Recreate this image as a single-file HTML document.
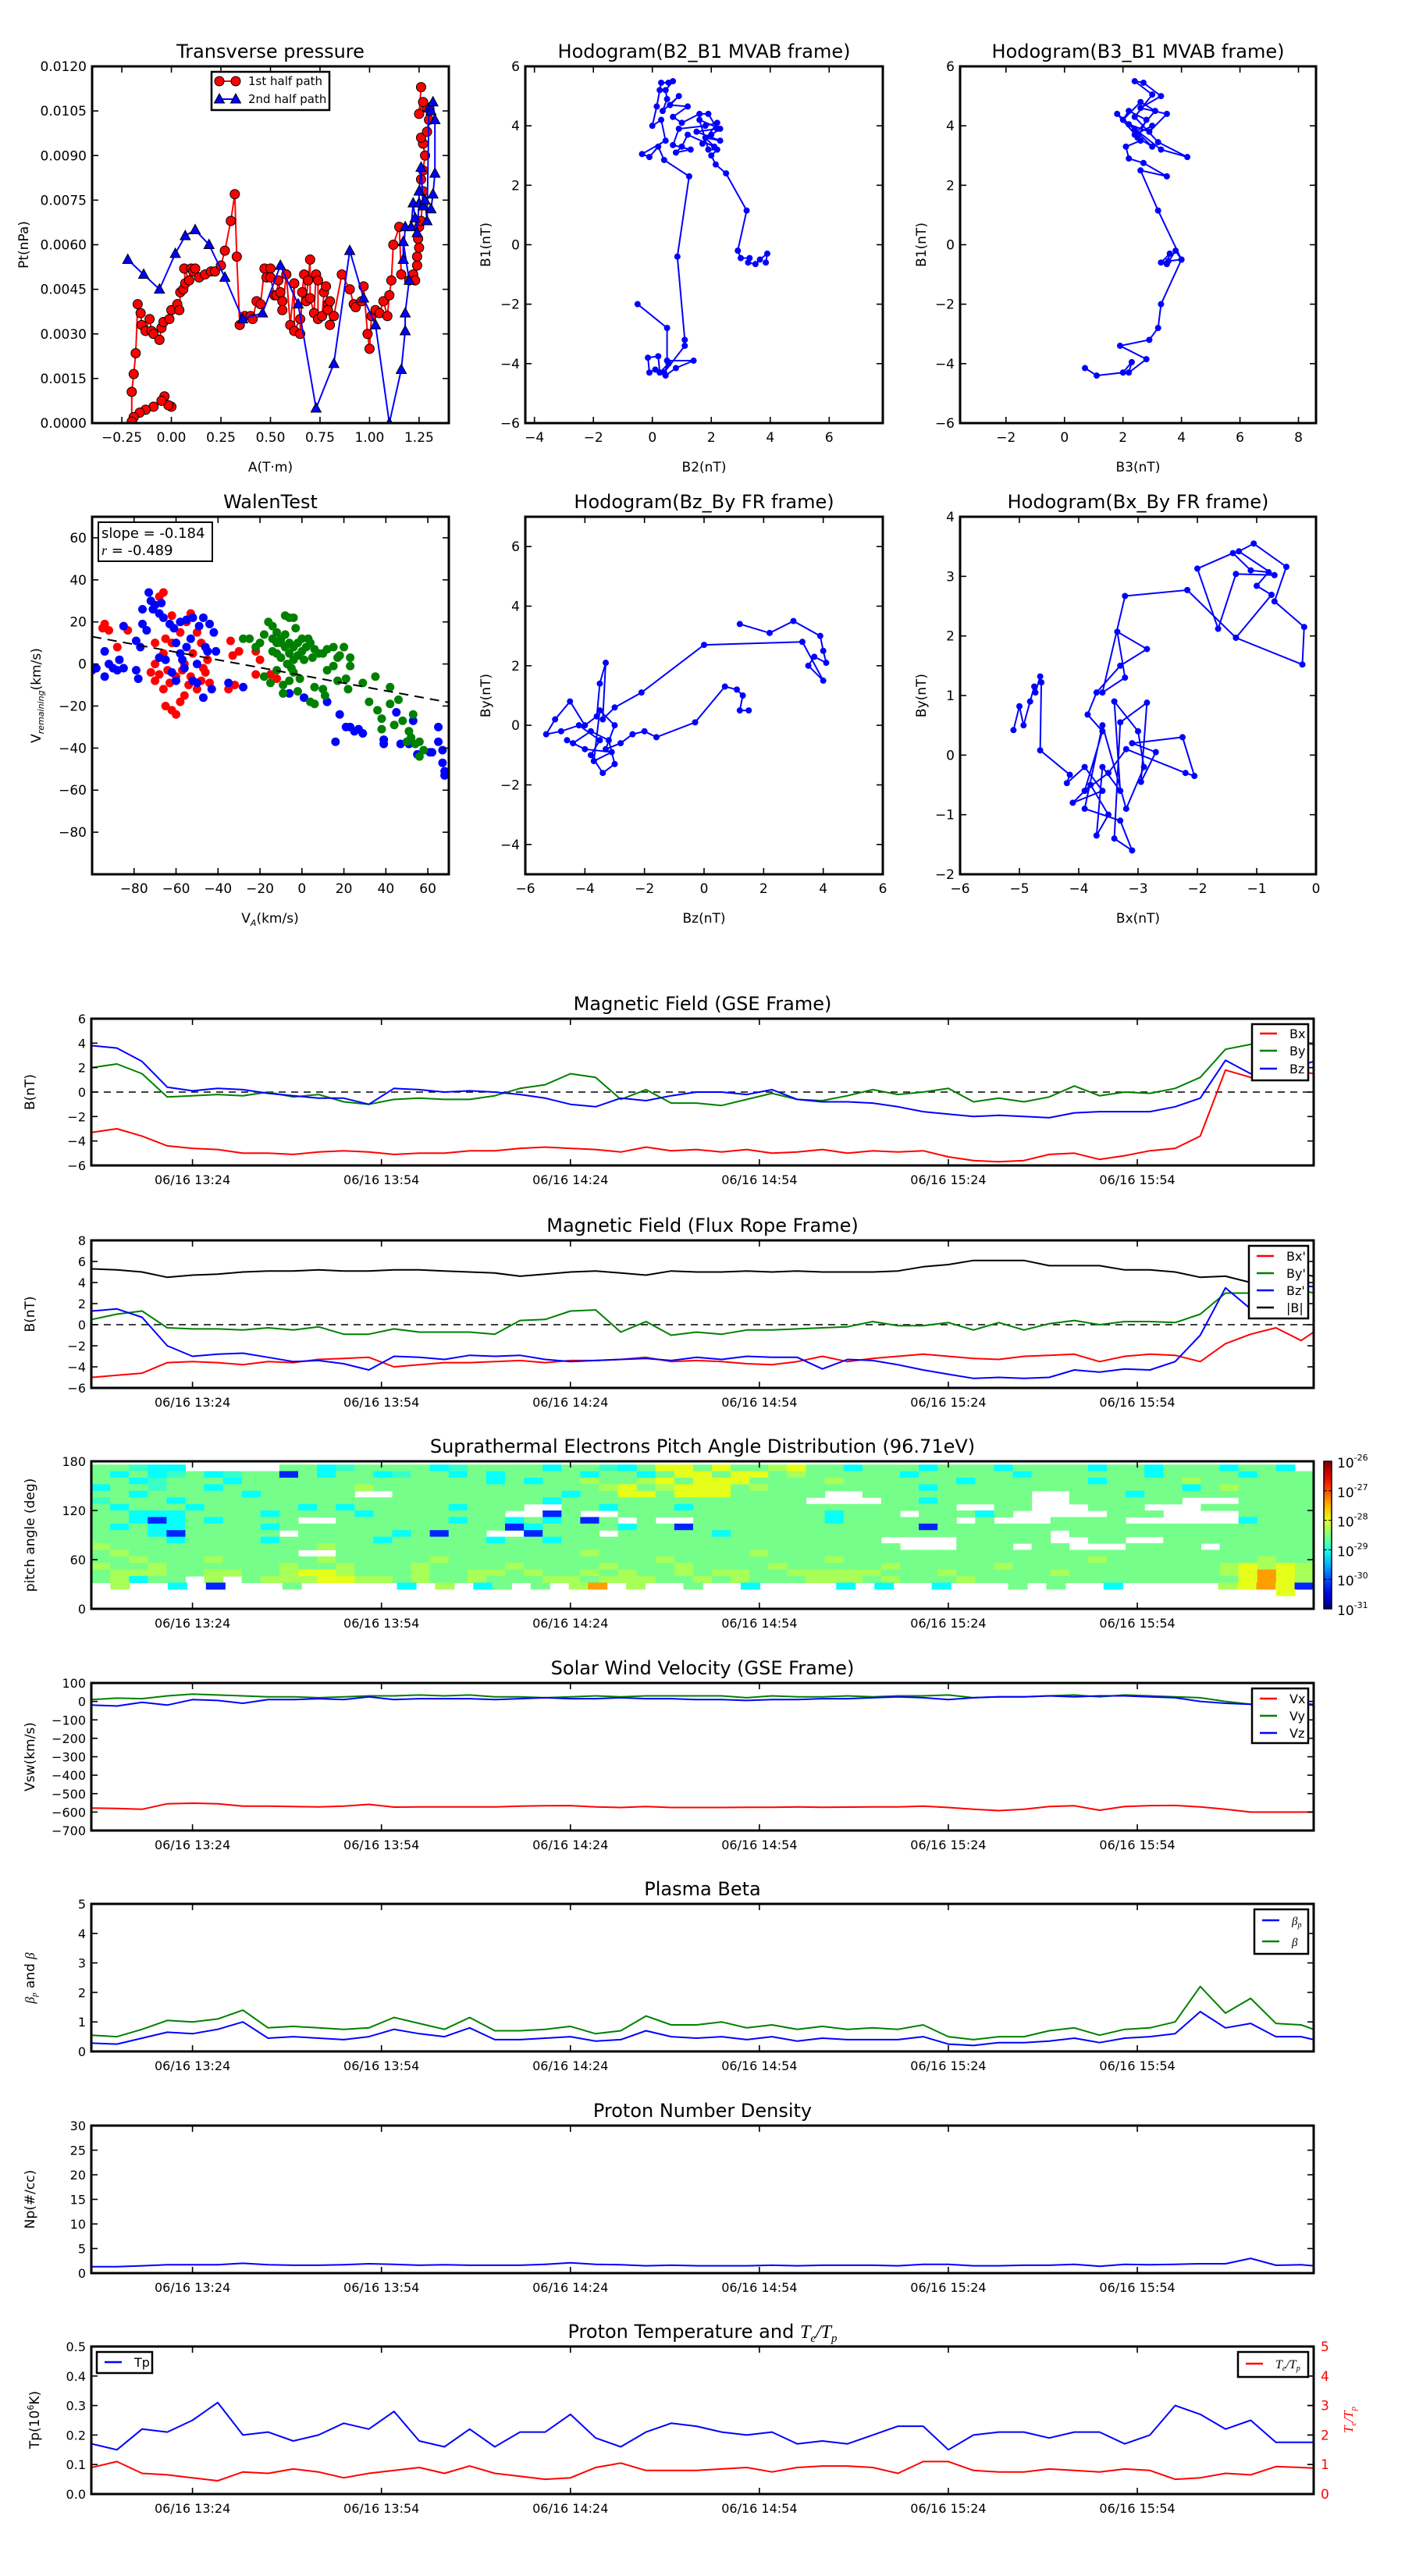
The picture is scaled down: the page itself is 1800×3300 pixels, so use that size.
<!DOCTYPE html>
<html><head><meta charset="utf-8"><title>Flux rope analysis</title>
<style>
html,body{margin:0;padding:0;background:#fff;}
svg{display:block;font-family:"DejaVu Sans","Liberation Sans",sans-serif;}
</style></head>
<body>
<svg id="fig" xmlns="http://www.w3.org/2000/svg" width="1800" height="3300" viewBox="0 0 1800 3300"><defs id="defs"></defs><rect width="1800" height="3300" fill="#fff"/></svg>
<script>
// ---------- DATA ----------
const tGrid=[8,12,16,20,24,28,32,36,40,44,48,52,56,60,64,68,72,76,80,84,88,92,96,100,104,108,112,116,120,124,128,132,136,140,144,148,152,156,160,164,168,172,176,180,184,188,192,196,200,202];
const timeTicks=[24,54,84,114,144,174];
const timeTickLabels=['06/16 13:24','06/16 13:54','06/16 14:24','06/16 14:54','06/16 15:24','06/16 15:54'];
const gseBx=[-3.3,-3.0,-3.6,-4.4,-4.6,-4.7,-5.0,-5.0,-5.1,-4.9,-4.8,-4.9,-5.1,-5.0,-5.0,-4.8,-4.8,-4.6,-4.5,-4.6,-4.7,-4.9,-4.5,-4.8,-4.7,-4.9,-4.7,-5.0,-4.9,-4.7,-5.0,-4.8,-4.9,-4.8,-5.3,-5.6,-5.7,-5.6,-5.1,-5.0,-5.5,-5.2,-4.8,-4.6,-3.6,1.8,1.2,1.6,1.7,1.5];
const gseBy=[2.0,2.3,1.5,-0.4,-0.3,-0.2,-0.3,0.0,-0.4,-0.2,-0.8,-1.0,-0.6,-0.5,-0.6,-0.6,-0.3,0.3,0.6,1.5,1.2,-0.6,0.2,-0.9,-0.9,-1.1,-0.6,-0.1,-0.6,-0.7,-0.3,0.2,-0.2,0.0,0.3,-0.8,-0.5,-0.8,-0.4,0.5,-0.3,0.0,-0.1,0.3,1.2,3.5,3.9,4.0,4.0,3.9];
const gseBz=[3.8,3.6,2.5,0.4,0.1,0.3,0.2,-0.1,-0.3,-0.5,-0.5,-1.0,0.3,0.2,0.0,0.1,0.0,-0.2,-0.5,-1.0,-1.2,-0.5,-0.7,-0.3,0.0,0.0,-0.2,0.2,-0.6,-0.8,-0.8,-0.9,-1.2,-1.6,-1.8,-2.0,-1.9,-2.0,-2.1,-1.7,-1.6,-1.6,-1.6,-1.2,-0.5,2.6,1.5,2.4,2.2,2.5];
const frBx=[-5.0,-4.8,-4.6,-3.6,-3.5,-3.6,-3.8,-3.5,-3.6,-3.3,-3.2,-3.1,-4.0,-3.8,-3.6,-3.6,-3.5,-3.4,-3.6,-3.4,-3.4,-3.3,-3.1,-3.5,-3.4,-3.5,-3.7,-3.8,-3.5,-3.0,-3.5,-3.2,-3.0,-2.8,-3.0,-3.2,-3.3,-3.0,-2.9,-2.8,-3.5,-3.0,-2.8,-2.9,-3.5,-1.8,-0.9,-0.3,-1.5,-0.7];
const frBy=[0.5,1.0,1.3,-0.3,-0.4,-0.4,-0.5,-0.3,-0.5,-0.2,-0.9,-0.9,-0.4,-0.7,-0.7,-0.7,-0.9,0.4,0.5,1.3,1.4,-0.7,0.3,-1.0,-0.7,-0.9,-0.5,-0.5,-0.4,-0.3,-0.2,0.3,-0.1,-0.1,0.2,-0.5,0.2,-0.5,0.1,0.4,0.0,0.3,0.3,0.2,1.0,3.0,3.0,3.2,3.3,3.0];
const frBz=[1.3,1.5,0.7,-2.0,-3.0,-2.8,-2.7,-3.1,-3.5,-3.4,-3.7,-4.3,-3.0,-3.1,-3.3,-2.9,-3.0,-2.9,-3.3,-3.5,-3.4,-3.3,-3.2,-3.4,-3.1,-3.3,-3.0,-3.1,-3.1,-4.2,-3.3,-3.4,-3.8,-4.3,-4.7,-5.1,-5.0,-5.1,-5.0,-4.3,-4.5,-4.2,-4.3,-3.5,-1.0,3.5,1.5,3.6,3.7,3.6];
const frBt=[5.3,5.2,5.0,4.5,4.7,4.8,5.0,5.1,5.1,5.2,5.1,5.1,5.2,5.2,5.1,5.0,4.9,4.6,4.8,5.0,5.1,4.9,4.7,5.1,5.0,5.0,5.1,5.0,5.1,5.0,5.0,5.0,5.1,5.5,5.7,6.1,6.1,6.1,5.6,5.6,5.6,5.2,5.2,5.0,4.5,4.6,4.0,4.2,4.8,4.6];
const vx=[-578,-580,-585,-555,-552,-555,-568,-568,-570,-572,-568,-558,-573,-572,-572,-572,-572,-568,-566,-565,-572,-575,-570,-575,-575,-575,-574,-574,-572,-574,-573,-572,-572,-568,-575,-585,-592,-585,-570,-566,-590,-570,-565,-564,-572,-585,-600,-600,-600,-600];
const vy=[10,18,15,30,40,35,30,25,25,20,25,30,30,35,30,35,25,25,20,25,30,25,30,30,30,30,20,30,25,25,30,25,30,30,35,20,25,25,30,35,25,35,30,25,20,0,-15,-10,-10,-15];
const vz=[-20,-25,-5,-20,10,5,-10,10,10,15,10,25,10,15,15,15,10,15,20,15,15,20,15,15,10,10,5,10,10,15,15,20,25,20,10,20,25,25,30,25,30,30,25,20,0,-10,-15,-20,-15,-20];
const betaP=[0.28,0.25,0.45,0.65,0.6,0.75,1.0,0.45,0.5,0.45,0.4,0.5,0.75,0.6,0.5,0.8,0.4,0.4,0.45,0.5,0.35,0.4,0.7,0.5,0.45,0.5,0.4,0.5,0.35,0.45,0.4,0.4,0.4,0.5,0.25,0.2,0.3,0.3,0.35,0.45,0.3,0.45,0.5,0.6,1.35,0.8,0.95,0.5,0.5,0.4];
const betaT=[0.55,0.5,0.75,1.05,1.0,1.1,1.4,0.8,0.85,0.8,0.75,0.8,1.15,0.95,0.75,1.15,0.7,0.7,0.75,0.85,0.6,0.7,1.2,0.9,0.9,1.0,0.8,0.9,0.75,0.85,0.75,0.8,0.75,0.9,0.5,0.4,0.5,0.5,0.7,0.8,0.55,0.75,0.8,1.0,2.2,1.3,1.8,0.95,0.9,0.75];
const np=[1.3,1.3,1.5,1.7,1.7,1.7,2.0,1.7,1.6,1.6,1.7,1.9,1.8,1.6,1.7,1.6,1.6,1.6,1.8,2.1,1.8,1.7,1.5,1.6,1.5,1.5,1.5,1.6,1.5,1.6,1.6,1.6,1.5,1.8,1.8,1.5,1.5,1.6,1.6,1.8,1.4,1.8,1.7,1.8,1.9,1.9,3.0,1.6,1.7,1.5];
const tp=[0.17,0.15,0.22,0.21,0.25,0.31,0.20,0.21,0.18,0.20,0.24,0.22,0.28,0.18,0.16,0.22,0.16,0.21,0.21,0.27,0.19,0.16,0.21,0.24,0.23,0.21,0.20,0.21,0.17,0.18,0.17,0.20,0.23,0.23,0.15,0.20,0.21,0.21,0.19,0.21,0.21,0.17,0.20,0.30,0.27,0.22,0.25,0.175,0.175,0.175];
const teTp=[0.9,1.1,0.7,0.65,0.55,0.45,0.75,0.7,0.85,0.75,0.55,0.7,0.8,0.9,0.7,0.95,0.7,0.6,0.5,0.55,0.9,1.05,0.8,0.8,0.8,0.85,0.9,0.75,0.9,0.95,0.95,0.9,0.7,1.1,1.1,0.8,0.75,0.75,0.85,0.8,0.75,0.85,0.8,0.5,0.55,0.7,0.65,0.93,0.9,0.88];
// PAD: rows top (176 deg) to bottom (16 deg), 8 deg each; columns span the time domain
const padRows=[
"GGgcc.....GGcgGGGGcgGGGGcGGgcGyyGyGGlyGGcGGGcGGGcGGGGcGGcGGGcGGc.",
"GcGcgGcgGGbGcGGcgGGcGcGGGGcGGcGyyGyyGlGGGGGcGGGGGcGGGGGGcGGGGcGGG",
"GGcgGGGcGGGGGGGGGGGGGcGcGGlGGlyGyyyGGGGlGGGGGGcGGGGGGcGGGGlGGGGGG",
"cGGgGGcGGGGGGGlGGGGGGGGGGGGlyGlyyyGlGGGGGGGGcGGGGGGGGGGGGGcGlGGGG",
"GGcGGGGGcGGGGG..GGGGGGGGGcGGyyGyyyGGGGG..GGGGGGGGG..GGGcGGGGGGGGG",
"gGGGcGGGGGGGGGGGGGGGGGGGcGGGGGGGGGGGGG....GGcGGGGG..GGGGGG...GGGG",
"GcGGGcGGGGGcGcGGGGGcGGG..GGcGGGcGGGGGGGGGGGGGG..GG...GGG...GGGGGG",
"GGcccGGGGcGGGGcGGGGGGG..bG..GGGGGGGGGGGcGGG.GGGcG.....GGG....GGGG",
"GGcbcGcGGGG..GGGGGGcGGcGcGbG.G..GGGGGGGcGGGGGG.G...GGGG......cGGG",
"GcGccGGGGcGGGGGGGGGGGGbcGGGGcGGbGGGGGGGGGGGGbGGGGGGGGGGGGGGGGGGGG",
"GGGcbGGGGG.GGGGGcGbGG..bGGG.GGGGGcGGGGGGGGGGGGGGGGG.GGGGGGGGGGGGG",
"GGGGcGGGGcGGGGGcGGGGGcGGcGGGGGGGGGGGGGGGGG....GGGGG..GG..GGGGGGGG",
"lGGGGGGGGGGGlGGGGGGGGGGGGGGGGGGGGGGGGGGGGGG...GGG.GG...GGGG.GGGGG",
"GlGGGGGGGGG..GGGGGGGGGGGGGlGGGGGGGGlGGGGGGGGGGGGGGGGGGGGGGGGGGGGG",
"GGlGGGlGGGGGlGGGGGlGGGGGGGGGGGlGGGGGGGGlGGGGGGGGGGGGGlGGGGGGGGlGG",
"lGGlGGGGGGlGGlGGGlGGGGlGGGGlGGGlGGGGlGGGGGlGGGGGlGGGGGGGGGGGlylyl",
"GlllGGllGGlyylGGGlGGllGlGGlGlGGlGllGGlllllGGGlGGGGGlGGGGGGGGlyoyl",
"GlcGG.l.GlllyyllGlGGlGGGllGlllGGlGlGGGlllGlGGGlGGGGGGGGGGGGGGyoyl",
".l..c.b...G.....c.l.cG.G.lo.l..G..c....c.c..c...G.G..c.....lyoyb",
"...............................................................y."];
const padLevels={b:-30.2,c:-29.1,g:-28.85,G:-28.55,l:-28.3,y:-28.0,o:-27.4};
const tpRed=[[0.0,0.00055],[-0.015,0.0006],[-0.035,0.0009],[-0.05,0.00075],[-0.09,0.00055],[-0.13,0.00045],[-0.16,0.00035],[-0.19,0.0002],[-0.2,0.00005],[-0.2,0.00105],[-0.19,0.00165],[-0.18,0.00235],[-0.17,0.004],[-0.155,0.0037],[-0.15,0.0033],[-0.13,0.0031],[-0.11,0.0035],[-0.1,0.0031],[-0.09,0.003],[-0.06,0.0028],[-0.05,0.0032],[-0.04,0.0034],[-0.01,0.0035],[0.0,0.0038],[0.03,0.004],[0.04,0.0038],[0.045,0.0044],[0.06,0.0045],[0.07,0.0047],[0.065,0.0052],[0.09,0.0048],[0.1,0.0052],[0.11,0.0051],[0.12,0.0052],[0.14,0.0049],[0.17,0.005],[0.2,0.0051],[0.22,0.0051],[0.25,0.0053],[0.27,0.0058],[0.3,0.0068],[0.32,0.0077],[0.33,0.0056],[0.345,0.0033],[0.37,0.0036],[0.4,0.0036],[0.41,0.0035],[0.43,0.0041],[0.45,0.004],[0.47,0.0052],[0.48,0.0049],[0.5,0.0052],[0.5,0.0049],[0.52,0.0043],[0.53,0.0043],[0.54,0.0048],[0.55,0.0044],[0.56,0.0041],[0.56,0.0038],[0.58,0.005],[0.6,0.0033],[0.62,0.0047],[0.62,0.0031],[0.65,0.0035],[0.65,0.003],[0.66,0.0044],[0.67,0.005],[0.68,0.0041],[0.69,0.0048],[0.7,0.0055],[0.7,0.0042],[0.72,0.0037],[0.73,0.005],[0.74,0.0048],[0.74,0.0035],[0.76,0.0036],[0.77,0.0044],[0.78,0.0046],[0.79,0.004],[0.79,0.0038],[0.8,0.0041],[0.8,0.0033],[0.82,0.0036],[0.86,0.005],[0.9,0.0045],[0.92,0.004],[0.93,0.0039],[0.96,0.0041],[0.97,0.0046],[0.99,0.003],[1.0,0.0025],[1.01,0.0036],[1.03,0.0038],[1.05,0.0037],[1.07,0.0041],[1.09,0.0036],[1.1,0.0043],[1.11,0.0048],[1.12,0.006],[1.15,0.0066],[1.16,0.005],[1.2,0.0048],[1.22,0.005],[1.23,0.0048],[1.24,0.0053],[1.24,0.0056],[1.25,0.0059],[1.245,0.0062],[1.25,0.0066],[1.26,0.0068],[1.27,0.0078],[1.26,0.0082],[1.27,0.0085],[1.28,0.009],[1.27,0.0094],[1.26,0.0096],[1.29,0.0098],[1.3,0.0102],[1.29,0.0106],[1.27,0.0108],[1.25,0.0104],[1.26,0.0113]];
const tpBlue=[[-0.22,0.0055],[-0.14,0.005],[-0.06,0.0045],[0.02,0.0057],[0.07,0.0063],[0.12,0.0065],[0.19,0.006],[0.27,0.0049],[0.36,0.0035],[0.46,0.0037],[0.55,0.0053],[0.64,0.004],[0.73,0.0005],[0.82,0.002],[0.9,0.0058],[0.97,0.0042],[1.03,0.0033],[1.1,0.0],[1.16,0.0018],[1.18,0.0031],[1.18,0.0037],[1.2,0.0048],[1.17,0.0061],[1.17,0.0055],[1.18,0.0066],[1.21,0.0066],[1.22,0.0074],[1.23,0.0069],[1.24,0.0064],[1.25,0.0074],[1.25,0.0078],[1.26,0.0086],[1.27,0.0073],[1.28,0.0075],[1.29,0.0068],[1.3,0.0106],[1.31,0.0105],[1.32,0.0108],[1.33,0.0102],[1.33,0.0084],[1.32,0.0077],[1.31,0.0072]];
const hodoB2B1=[[-0.5,-2.0],[0.5,-2.8],[0.5,-3.9],[1.4,-3.9],[0.8,-4.15],[0.45,-4.4],[0.1,-4.2],[-0.1,-4.3],[-0.15,-3.8],[0.2,-3.75],[0.25,-4.3],[0.55,-4.0],[0.4,-4.3],[1.1,-3.4],[1.1,-3.2],[0.85,-0.4],[1.25,2.3],[0.4,2.85],[0.2,3.3],[-0.1,2.95],[-0.35,3.05],[0.45,3.5],[0.3,4.2],[0.0,4.0],[0.15,4.65],[0.25,5.2],[0.3,5.45],[0.55,5.45],[0.7,5.5],[0.45,5.2],[0.5,4.9],[0.35,4.5],[0.9,5.0],[0.6,4.7],[1.2,4.65],[0.7,4.3],[1.0,4.1],[1.6,4.4],[1.9,4.4],[2.2,3.9],[1.5,3.8],[2.3,3.5],[1.8,3.6],[2.1,3.3],[1.2,3.7],[1.0,3.3],[0.8,3.1],[1.3,3.2],[0.7,3.35],[0.9,3.9],[1.8,4.0],[2.2,4.1],[1.7,3.4],[2.0,3.7],[2.3,3.9],[1.6,4.2],[1.9,3.2],[2.2,3.2],[2.0,3.0],[2.15,2.7],[2.5,2.4],[3.2,1.15],[2.9,-0.2],[3.0,-0.45],[3.3,-0.45],[3.25,-0.6],[3.5,-0.65],[3.65,-0.5],[3.9,-0.3],[3.85,-0.6]];
const hodoB3B1=[[0.7,-4.15],[1.1,-4.4],[2.0,-4.3],[2.3,-3.95],[2.2,-4.3],[2.8,-3.85],[1.9,-3.4],[2.9,-3.2],[3.2,-2.8],[3.3,-2.0],[4.0,-0.5],[3.8,-0.2],[3.5,-0.65],[3.6,-0.3],[3.3,-0.6],[3.55,-0.55],[4.0,-0.5],[3.2,1.15],[2.6,2.5],[3.5,2.3],[2.7,2.75],[2.2,2.9],[2.1,3.3],[2.6,3.5],[1.8,4.4],[2.4,3.9],[3.3,3.2],[4.2,2.95],[3.2,3.45],[2.4,4.3],[3.0,5.05],[2.4,5.5],[2.7,5.45],[3.3,5.0],[2.6,4.6],[3.5,4.4],[2.9,3.8],[2.2,4.05],[3.0,3.3],[2.5,3.6],[2.8,4.2],[2.2,4.5],[2.0,4.2],[2.6,4.8],[3.1,4.5],[2.4,3.7],[3.0,4.0]];
const hodoBzBy=[[1.2,3.4],[2.2,3.1],[3.0,3.5],[3.9,3.0],[4.0,2.5],[4.1,2.1],[3.7,2.3],[3.5,2.0],[4.0,1.5],[3.3,2.8],[0.0,2.7],[-2.1,1.1],[-3.0,0.6],[-3.4,0.2],[-3.3,2.1],[-3.5,1.4],[-3.6,0.3],[-4.0,0.0],[-4.5,0.8],[-5.0,0.2],[-5.3,-0.3],[-4.8,-0.2],[-4.2,0.0],[-3.5,-0.5],[-3.8,-1.0],[-3.4,-1.6],[-3.0,-1.3],[-3.2,-0.5],[-3.8,-0.2],[-4.4,-0.6],[-4.6,-0.5],[-4.0,-0.8],[-3.1,-0.9],[-3.7,-1.2],[-3.5,0.5],[-3.0,0.0],[-3.3,-0.8],[-2.8,-0.6],[-2.4,-0.3],[-2.0,-0.2],[-1.6,-0.4],[-0.3,0.1],[0.7,1.3],[1.1,1.2],[1.3,1.0],[1.2,0.5],[1.5,0.5]];
const hodoBxBy=[[-5.1,0.42],[-5.0,0.82],[-4.93,0.5],[-4.82,0.9],[-4.75,1.15],[-4.73,1.05],[-4.65,1.32],[-4.63,1.22],[-4.65,0.08],[-4.15,-0.33],[-4.2,-0.47],[-3.9,-0.2],[-3.6,-0.6],[-4.1,-0.8],[-3.8,-0.5],[-3.5,-1.0],[-3.7,-1.35],[-3.6,-0.2],[-3.3,-0.6],[-3.4,0.9],[-3.0,0.4],[-2.9,-0.2],[-3.2,-0.9],[-3.6,0.5],[-3.9,-0.9],[-3.3,-1.1],[-3.1,-1.6],[-3.4,-1.4],[-3.3,0.55],[-2.85,0.88],[-2.95,-0.45],[-2.7,0.05],[-3.1,0.2],[-2.25,0.3],[-2.05,-0.35],[-2.2,-0.3],[-3.2,0.1],[-3.5,-0.3],[-3.9,-0.6],[-3.6,0.4],[-3.85,0.68],[-3.7,1.05],[-3.3,1.5],[-2.85,1.78],[-3.35,2.07],[-3.22,1.3],[-3.6,1.05],[-3.22,2.67],[-2.17,2.77],[-1.35,1.97],[-0.23,1.52],[-0.2,2.15],[-0.7,2.58],[-0.5,3.16],[-1.05,3.55],[-1.3,3.42],[-0.7,3.02],[-1.35,3.04],[-1.65,2.12],[-2.0,3.13],[-1.4,3.39],[-1.1,3.1],[-0.8,3.07],[-1.0,2.84],[-0.75,2.69],[-1.35,1.97]];
const walenRed=[[-95,17],[-94,19],[-92,16],[-88,8],[-83,16],[-70,-8],[-66,-12],[-65,-20],[-62,-22],[-60,-24],[-58,-18],[-56,-15],[-68,32],[-66,34],[-53,24],[-62,23],[-34,11],[-33,4],[-30,6],[-35,-12],[-32,-10],[-22,6],[-20,2],[-22,-5],[-15,-5],[-12,-7],[-70,0],[-68,-5],[-66,5],[-64,-3],[-62,10],[-60,-6],[-58,15],[-56,0],[-54,-10],[-52,5],[-50,-12],[-48,-8],[-46,-4],[-44,-9],[-45,2],[-48,10],[-72,-4],[-70,10],[-55,20],[-50,15],[-63,-9],[-57,-3],[-53,-6],[-47,-2],[-65,12]];
const walenBlue=[[-100,-3],[-98,-2],[-94,-6],[-94,6],[-92,0],[-90,-2],[-88,-3],[-87,2],[-85,-2],[-85,18],[-79,-3],[-78,-7],[-79,11],[-77,8],[-76,19],[-76,26],[-74,16],[-73,34],[-72,30],[-71,26],[-70,28],[-68,24],[-67,29],[-66,22],[-63,19],[-61,17],[-58,20],[-55,21],[-52,22],[-49,18],[-47,22],[-44,19],[-42,15],[-41,6],[-45,6],[-43,-12],[-47,-16],[-50,-9],[-52,-8],[-60,-8],[-62,-4],[-65,2],[-68,3],[-58,5],[-55,8],[-53,12],[-57,2],[-60,10],[-56,-2],[-50,0],[-46,8],[-35,-9],[-28,-11],[-6,-14],[1,-16],[12,-18],[18,-24],[21,-30],[23,-30],[25,-32],[27,-31],[29,-33],[16,-37],[39,-36],[39,-38],[45,-23],[47,-38],[51,-38],[53,-27],[55,-43],[61,-42],[62,-42],[65,-30],[65,-37],[67,-41],[67,-47],[68,-51],[68,-53]];
const walenGreen=[[-28,12],[-25,12],[-22,8],[-20,10],[-18,14],[-16,20],[-14,18],[-12,15],[-10,10],[-8,23],[-6,22],[-4,22],[-3,17],[-14,6],[-12,5],[-10,3],[-8,8],[-6,5],[-4,2],[-2,4],[0,6],[2,8],[3,12],[4,10],[6,7],[8,5],[10,5],[12,7],[15,8],[17,3],[18,4],[20,8],[23,3],[23,-1],[-18,-6],[-15,-9],[-12,-3],[-9,-10],[-9,-14],[-6,-8],[-4,-4],[-2,-13],[-1,-7],[4,-18],[6,-19],[6,-11],[10,-12],[11,-15],[12,-3],[15,-1],[17,-8],[21,-7],[22,-12],[29,-9],[32,-18],[35,-6],[36,-22],[38,-26],[38,-31],[42,-11],[42,-19],[44,-29],[46,-17],[48,-27],[50,-37],[51,-32],[52,-35],[53,-24],[54,-38],[56,-37],[56,-44],[58,-41],[-10,12],[-8,14],[-6,10],[-4,8],[-12,10],[-14,12],[-2,10],[0,12],[-7,0],[-5,-2],[1,2],[5,3]];
const walenSlope=-0.184;
const walenIntercept=-5.4;

// ---------- HELPERS ----------
const NS='http://www.w3.org/2000/svg';
const svg=document.getElementById('fig');
const defs=document.getElementById('defs');
let cid=0;
function mk(tag,attrs,parent){const e=document.createElementNS(NS,tag);for(const k in attrs)e.setAttribute(k,attrs[k]);(parent||svg).appendChild(e);return e;}
function txt(s,x,y,attrs,parent){const e=mk('text',Object.assign({x:x,y:y},attrs||{}),parent);e.textContent=s;return e;}
function fmtNum(v){return String(v).replace('-','\u2212');}

function axes(o){
  const g=mk('g',{});
  
  
  const sx=v=>o.x0+(v-o.xmin)/(o.xmax-o.xmin)*(o.x1-o.x0);
  const sy=v=>o.y1-(v-o.ymin)/(o.ymax-o.ymin)*(o.y1-o.y0);
  cid++;
  const cp=mk('clipPath',{id:'cp'+cid},defs);
  mk('rect',{x:o.x0,y:o.y0,width:o.x1-o.x0,height:o.y1-o.y0},cp);
  const data=mk('g',{'clip-path':'url(#cp'+cid+')'},g);
  
  
  return {g,data,sx,sy,o};
}
function finish(a,fs){
  const o=a.o,g=a.g;fs=fs||17;
  const tk=mk('g',{stroke:'#000','stroke-width':1.6},g);
  
  
  o.xticks.forEach((v,i)=>{const x=a.sx(v);
    mk('line',{x1:x,x2:x,y1:o.y1,y2:o.y1-8},tk);mk('line',{x1:x,x2:x,y1:o.y0,y2:o.y0+8},tk);
    const t=txt(o.xlabels?o.xlabels[i]:fmtNum(v),x,o.y1+24,{'font-size':fs,'text-anchor':'middle'},g);
    
    });
  o.yticks.forEach((v,i)=>{const y=a.sy(v);
    mk('line',{x1:o.x0,x2:o.x0+8,y1:y,y2:y},tk);mk('line',{x1:o.x1,x2:o.x1-8,y1:y,y2:y},tk);
    const t=txt(o.ylabels?o.ylabels[i]:fmtNum(v),o.x0-7,y+6,{'font-size':fs,'text-anchor':'end'},g);
    
    });
  const fr=mk('rect',{x:o.x0,y:o.y0,width:o.x1-o.x0,height:o.y1-o.y0,fill:'none',stroke:'#000','stroke-width':3},g);
  
  
  if(o.title){const t=txt(o.title,(o.x0+o.x1)/2,o.y0-11,{'font-size':24,'text-anchor':'middle'},g);
    
    }
  if(o.xtitle){const t=txt(o.xtitle,(o.x0+o.x1)/2,o.y1+62,{'font-size':17,'text-anchor':'middle'},g);
    
    }
  if(o.ytitle){const yc=(o.y0+o.y1)/2;const t=txt(o.ytitle,o.ytx,yc,{'font-size':17,'text-anchor':'middle',transform:'rotate(-90 '+o.ytx+' '+yc+')'},g);
    
    }
}
function line(a,xs,ys,color,name,w){
  const pts=xs.map((x,i)=>a.sx(x).toFixed(1)+','+a.sy(ys[i]).toFixed(1)).join(' ');
  const p=mk('polyline',{points:pts,fill:'none',stroke:color,'stroke-width':w||2,'stroke-linejoin':'round'},a.data);
  
  
  return p;
}
function pathPairs(a,pairs,color,name,r,w){
  const pts=pairs.map(p=>a.sx(p[0]).toFixed(1)+','+a.sy(p[1]).toFixed(1)).join(' ');
  const p=mk('polyline',{points:pts,fill:'none',stroke:color,'stroke-width':w||2},a.data);
  
  
  if(r){pairs.forEach(q=>{const c=mk('circle',{cx:a.sx(q[0]),cy:a.sy(q[1]),r:r,fill:color},a.data);
    
    });}
}
function hline0(a){const l=mk('line',{x1:a.o.x0,x2:a.o.x1,y1:a.sy(0),y2:a.sy(0),stroke:'#000','stroke-width':1.5,'stroke-dasharray':'9,7'},a.data);
  
  }
function legend(x,y,w,h,entries,fs){
  const g=mk('g',{});
  
  
  mk('rect',{x:x,y:y,width:w,height:h,fill:'#fff',stroke:'#000','stroke-width':2.5},g);
  entries.forEach(e=>{
    const ln=mk('line',{x1:x+e.lx0,x2:x+e.lx1,y1:y+e.dy,y2:y+e.dy,stroke:e.color,'stroke-width':2.5},g);
    
    
    const t=mk('text',{x:x+e.tx,y:y+e.dy+6,'font-size':fs||16,fill:e.tcolor||'#000'},g);
    t.innerHTML=e.label;
    
    
  });
  return g;
}
function jet(t){t=Math.max(0,Math.min(1,t));const c=v=>Math.round(255*Math.max(0,Math.min(1,v)));
  return 'rgb('+c(1.5-Math.abs(4*t-3))+','+c(1.5-Math.abs(4*t-2))+','+c(1.5-Math.abs(4*t-1))+')';}

// ---------- TOP ROW ----------
let a=axes({name:'transverse-pressure-chart',x0:118,x1:575,y0:85,y1:542,xmin:-0.4,xmax:1.4,ymin:0,ymax:0.012,
  xticks:[-0.25,0,0.25,0.5,0.75,1.0,1.25],xlabels:['\u22120.25','0.00','0.25','0.50','0.75','1.00','1.25'],
  yticks:[0,0.0015,0.003,0.0045,0.006,0.0075,0.009,0.0105,0.012],ylabels:['0.0000','0.0015','0.0030','0.0045','0.0060','0.0075','0.0090','0.0105','0.0120'],
  title:'Transverse pressure',xtitle:'A(T\u00b7m)',ytitle:'Pt(nPa)',ytx:36});
pathPairs(a,tpRed,'#f00','first-half-path',0,2);
tpRed.forEach(q=>{const c=mk('circle',{cx:a.sx(q[0]),cy:a.sy(q[1]),r:6,fill:'#f00',stroke:'#000','stroke-width':1},a.data);
  
  });
pathPairs(a,tpBlue,'#00f','second-half-path',0,2);
tpBlue.forEach(q=>{const x=a.sx(q[0]),y=a.sy(q[1]);const t=mk('polygon',{points:(x)+','+(y-7)+' '+(x-6.5)+','+(y+5)+' '+(x+6.5)+','+(y+5),fill:'#00f',stroke:'#000','stroke-width':1},a.data);
  
  });
finish(a);
{const lg=legend(271,92,151,49,[],15);
 [[104,'#f00','1st half path','c'],[127,'#00f','2nd half path','t']].forEach(e=>{
  mk('line',{x1:281,x2:302,y1:e[0],y2:e[0],stroke:e[1],'stroke-width':2},lg);
  [281,302].forEach(mx=>{let m;
    if(e[3]==='c')m=mk('circle',{cx:mx,cy:e[0],r:6,fill:e[1],stroke:'#000','stroke-width':1},lg);
    else m=mk('polygon',{points:mx+','+(e[0]-7)+' '+(mx-6.5)+','+(e[0]+5)+' '+(mx+6.5)+','+(e[0]+5),fill:e[1],stroke:'#000','stroke-width':1},lg);
    
    });
  const t=txt(e[2],318,e[0]+5,{'font-size':15},lg);
  
  });}

a=axes({name:'hodogram-b2-b1-chart',x0:673,x1:1131,y0:85,y1:542,xmin:-4.31,xmax:7.82,ymin:-6,ymax:6,
  xticks:[-4,-2,0,2,4,6],yticks:[-6,-4,-2,0,2,4,6],title:'Hodogram(B2_B1 MVAB frame)',xtitle:'B2(nT)',ytitle:'B1(nT)',ytx:628});
pathPairs(a,hodoB2B1,'#00f','hodogram-b2-b1',4,2);finish(a);

a=axes({name:'hodogram-b3-b1-chart',x0:1230,x1:1686,y0:85,y1:542,xmin:-3.57,xmax:8.6,ymin:-6,ymax:6,
  xticks:[-2,0,2,4,6,8],yticks:[-6,-4,-2,0,2,4,6],title:'Hodogram(B3_B1 MVAB frame)',xtitle:'B3(nT)',ytitle:'B1(nT)',ytx:1186});
pathPairs(a,hodoB3B1,'#00f','hodogram-b3-b1',4,2);finish(a);

// ---------- SECOND ROW ----------
a=axes({name:'walen-test-chart',x0:118,x1:575,y0:662,y1:1120,xmin:-100,xmax:70,ymin:-100,ymax:70,
  xticks:[-80,-60,-40,-20,0,20,40,60],yticks:[-80,-60,-40,-20,0,20,40,60],title:'WalenTest',ytx:52});
[[walenRed,'#f00','walen-red-point'],[walenBlue,'#00f','walen-blue-point'],[walenGreen,'#008000','walen-green-point']].forEach(s=>{
  s[0].forEach(q=>{const c=mk('circle',{cx:a.sx(q[0]),cy:a.sy(q[1]),r:5.5,fill:s[1]},a.data);
    
    });});
{const fl=mk('line',{x1:a.sx(-100),y1:a.sy(walenIntercept+walenSlope*-100),x2:a.sx(70),y2:a.sy(walenIntercept+walenSlope*70),stroke:'#000','stroke-width':2,'stroke-dasharray':'12,8'},a.data);
 
 }
finish(a);
{const yc=891;const t=mk('text',{x:52,y:yc,'font-size':17,'text-anchor':'middle',transform:'rotate(-90 52 '+yc+')'},a.g);
 t.innerHTML='V<tspan font-size="11" font-style="italic" dy="4">remaining</tspan><tspan dy="-4">(km/s)</tspan>';
 
 
 const xt=mk('text',{x:346,y:1182,'font-size':17,'text-anchor':'middle'},a.g);
 xt.innerHTML='V<tspan font-size="11" font-style="italic" dy="4">A</tspan><tspan dy="-4">(km/s)</tspan>';
 
 
 const bx=mk('rect',{x:126,y:669,width:146,height:50,fill:'#fff',stroke:'#000','stroke-width':2},a.g);
 
 
 const t1=txt('slope = -0.184',130,689,{'font-size':18},a.g);
 
 
 const t2=mk('text',{x:130,y:711,'font-size':18},a.g);t2.innerHTML='<tspan font-style="italic" font-family="Liberation Serif">r</tspan> = -0.489';
 
 }

a=axes({name:'hodogram-bz-by-chart',x0:673,x1:1131,y0:662,y1:1120,xmin:-6,xmax:6,ymin:-5,ymax:7,
  xticks:[-6,-4,-2,0,2,4,6],yticks:[-4,-2,0,2,4,6],title:'Hodogram(Bz_By FR frame)',xtitle:'Bz(nT)',ytitle:'By(nT)',ytx:628});
pathPairs(a,hodoBzBy,'#00f','hodogram-bz-by',4,2);finish(a);

a=axes({name:'hodogram-bx-by-chart',x0:1230,x1:1686,y0:662,y1:1120,xmin:-6,xmax:0,ymin:-2,ymax:4,
  xticks:[-6,-5,-4,-3,-2,-1,0],yticks:[-2,-1,0,1,2,3,4],title:'Hodogram(Bx_By FR frame)',xtitle:'Bx(nT)',ytitle:'By(nT)',ytx:1186});
pathPairs(a,hodoBxBy,'#00f','hodogram-bx-by',4,2);finish(a);

// ---------- TIME SERIES ----------
const TX0=117,TX1=1683,TMIN=7.94,TMAX=202;
function tsAxes(name,y0,y1,ymin,ymax,yticks,title,ytitle,ylabels){
  return axes({name:name,x0:TX0,x1:TX1,y0:y0,y1:y1,xmin:TMIN,xmax:TMAX,ymin:ymin,ymax:ymax,
    xticks:timeTicks,xlabels:timeTickLabels,yticks:yticks,ylabels:ylabels,title:title,ytitle:ytitle,ytx:44});
}
a=tsAxes('magnetic-field-gse-chart',1305,1493,-6,6,[-6,-4,-2,0,2,4,6],'Magnetic Field (GSE Frame)','B(nT)');
hline0(a);line(a,tGrid,gseBx,'#f00','bx-line');line(a,tGrid,gseBy,'#008000','by-line');line(a,tGrid,gseBz,'#00f','bz-line');
finish(a,16);
legend(1604,1312,72,72,[{label:'Bx',color:'#f00',dy:12,lx0:10,lx1:32,tx:48},{label:'By',color:'#008000',dy:34,lx0:10,lx1:32,tx:48},{label:'Bz',color:'#00f',dy:57,lx0:10,lx1:32,tx:48}],16);

a=tsAxes('magnetic-field-fr-chart',1589,1778,-6,8,[-6,-4,-2,0,2,4,6,8],'Magnetic Field (Flux Rope Frame)','B(nT)');
hline0(a);line(a,tGrid,frBt,'#000','btotal-line');line(a,tGrid,frBx,'#f00','bx-prime-line');line(a,tGrid,frBy,'#008000','by-prime-line');line(a,tGrid,frBz,'#00f','bz-prime-line');
finish(a,16);
legend(1600,1596,76,93,[{label:"Bx'",color:'#f00',dy:13,lx0:10,lx1:32,tx:48},{label:"By'",color:'#008000',dy:35,lx0:10,lx1:32,tx:48},{label:"Bz'",color:'#00f',dy:57,lx0:10,lx1:32,tx:48},{label:'|B|',color:'#000',dy:79,lx0:10,lx1:32,tx:48}],16);

// PAD heatmap
a=tsAxes('pitch-angle-distribution-chart',1872,2061,0,180,[0,60,120,180],'Suprathermal Electrons Pitch Angle Distribution (96.71eV)','pitch angle (deg)');
padRows.forEach((row,r)=>{
  const pa1=176-8*r,pa0=pa1-8;const n=row.length;
  for(let c=0;c<n;c++){const ch=row[c];if(ch==='.')continue;
    const t0=TMIN+(TMAX-TMIN)*c/n,t1=TMIN+(TMAX-TMIN)*(c+1)/n;
    const cell=mk('rect',{x:a.sx(t0).toFixed(2),y:a.sy(pa1).toFixed(2),width:(a.sx(t1)-a.sx(t0)+0.6).toFixed(2),height:(a.sy(pa0)-a.sy(pa1)+0.6).toFixed(2),fill:jet((padLevels[ch]+31)/5)},a.data);
    
    }
});
finish(a,16);
{const gr=mk('linearGradient',{id:'jetg',x1:0,y1:1,x2:0,y2:0},defs);
 for(let i=0;i<=10;i++)mk('stop',{offset:i/10,'stop-color':jet(i/10)},gr);
 const cb=mk('g',{});
 
 
 mk('rect',{x:1696,y:1872,width:10,height:189,fill:'url(#jetg)',stroke:'#000','stroke-width':1.5},cb);
 [-26,-27,-28,-29,-30,-31].forEach((e,i)=>{const y=1872+i*189/5;
   mk('line',{x1:1696,x2:1700,y1:y,y2:y,stroke:'#000','stroke-width':1},cb);mk('line',{x1:1702,x2:1706,y1:y,y2:y,stroke:'#000','stroke-width':1},cb);
   const t=mk('text',{x:1713,y:y+8,'font-size':17},cb);t.innerHTML='10<tspan font-size="11" dy="-9">'+e+'</tspan>';
   
   });}

a=tsAxes('solar-wind-velocity-chart',2156,2345,-700,100,[-700,-600,-500,-400,-300,-200,-100,0,100],'Solar Wind Velocity (GSE Frame)','Vsw(km/s)');
line(a,tGrid,vx,'#f00','vx-line');line(a,tGrid,vy,'#008000','vy-line');line(a,tGrid,vz,'#00f','vz-line');
finish(a,16);
legend(1604,2163,72,70,[{label:'Vx',color:'#f00',dy:13,lx0:10,lx1:32,tx:48},{label:'Vy',color:'#008000',dy:35,lx0:10,lx1:32,tx:48},{label:'Vz',color:'#00f',dy:57,lx0:10,lx1:32,tx:48}],16);

a=tsAxes('plasma-beta-chart',2439,2628,0,5,[0,1,2,3,4,5],'Plasma Beta','');
line(a,tGrid,betaT,'#008000','beta-line');line(a,tGrid,betaP,'#00f','beta-p-line');
finish(a,16);
{const t=mk('text',{x:44,y:2534,'font-size':17,'text-anchor':'middle',transform:'rotate(-90 44 2534)'},a.g);
 t.innerHTML='<tspan font-style="italic" font-family="Liberation Serif">β<tspan font-size="11" dy="3">p</tspan></tspan><tspan dy="-3"> and </tspan><tspan font-style="italic" font-family="Liberation Serif">β</tspan>';
 
 }
legend(1607,2446,69,57,[{label:'<tspan font-style="italic" font-family="Liberation Serif">β<tspan font-size="10" dy="3">p</tspan></tspan>',color:'#00f',dy:14,lx0:10,lx1:32,tx:48},{label:'<tspan font-style="italic" font-family="Liberation Serif">β</tspan>',color:'#008000',dy:41,lx0:10,lx1:32,tx:48}],15);

a=tsAxes('proton-density-chart',2723,2912,0,30,[0,5,10,15,20,25,30],'Proton Number Density','Np(#/cc)');
line(a,tGrid,np,'#00f','np-line');finish(a,16);

a=tsAxes('proton-temperature-chart',3006,3195,0,0.5,[0,0.1,0.2,0.3,0.4,0.5],'','',['0.0','0.1','0.2','0.3','0.4','0.5']);
line(a,tGrid,tp,'#00f','tp-line');
const teScale=v=>v/10; // right axis 0..5 maps onto 0..0.5
line(a,tGrid,teTp.map(teScale),'#f00','te-tp-line');
finish(a,16);
{const g=a.g;
 [0,1,2,3,4,5].forEach(v=>{const y=a.sy(v/10);
  mk('line',{x1:TX1,x2:TX1-8,y1:y,y2:y,stroke:'#000','stroke-width':1.6},g);
  const t=txt(String(v),1692,y+6,{'font-size':17,fill:'#f00'},g);
  
  });
 const tt=mk('text',{x:900,y:2995,'font-size':24,'text-anchor':'middle'},g);
 tt.innerHTML='Proton Temperature and <tspan font-style="italic" font-family="Liberation Serif">T<tspan font-size="15" dy="5">e</tspan><tspan dy="-5">/T</tspan><tspan font-size="15" dy="5">p</tspan></tspan>';
 
 
 const yl=mk('text',{x:50,y:3100,'font-size':17,'text-anchor':'middle',transform:'rotate(-90 50 3100)'},g);
 yl.innerHTML='Tp(10<tspan font-size="11" dy="-7">6</tspan><tspan dy="7">K)</tspan>';
 
 
 const yr=mk('text',{x:1733,y:3100,'font-size':17,fill:'#f00','text-anchor':'middle','font-style':'italic','font-family':'Liberation Serif',transform:'rotate(-90 1733 3100)'},g);
 yr.innerHTML='T<tspan font-size="11" dy="4">e</tspan><tspan dy="-4">/T</tspan><tspan font-size="11" dy="4">p</tspan>';
 
 }
legend(124,3013,71,27,[{label:'Tp',color:'#00f',dy:13,lx0:10,lx1:32,tx:48}],16);
legend(1586,3013,90,32,[{label:'<tspan font-style="italic" font-family="Liberation Serif">T<tspan font-size="10" dy="3">e</tspan><tspan dy="-3">/T</tspan><tspan font-size="10" dy="3">p</tspan></tspan>',color:'#f00',dy:15,lx0:10,lx1:32,tx:48}],16);
</script>
</body></html>
